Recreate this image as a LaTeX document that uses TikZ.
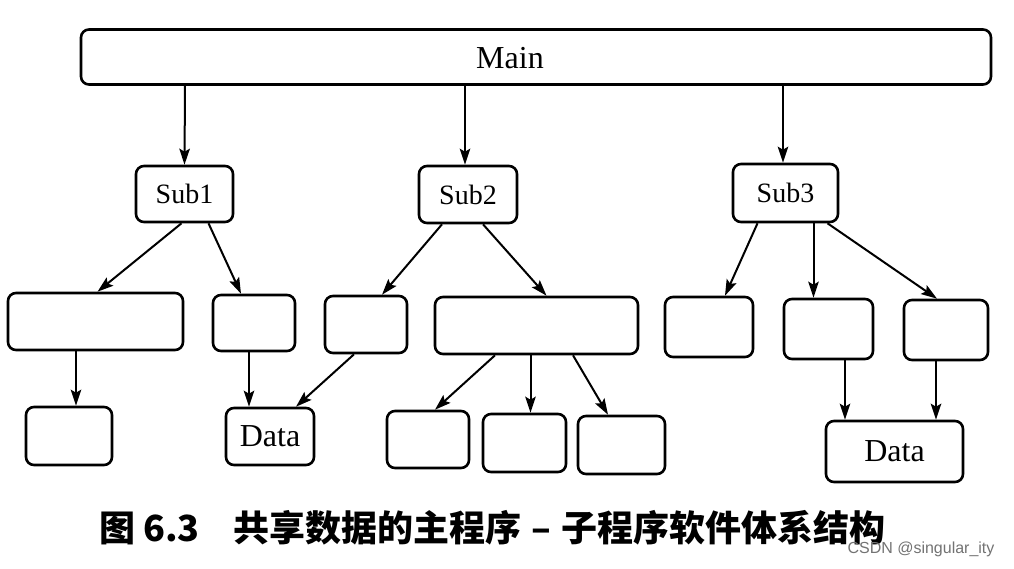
\documentclass[tikz,border=0pt]{standalone}
\usepackage{fontspec}
\setmainfont{Liberation Serif}
\newfontfamily\cjk{Noto Sans CJK SC}
\newfontfamily\wmfont{Liberation Sans}
\usetikzlibrary{arrows.meta}

\begin{document}
\begin{tikzpicture}[x=1pt,y=-1pt,
 modbox/.style={draw,line width=2.6pt,rounded corners=8pt,inner sep=0pt,
   font=\fontsize{28}{28}\selectfont},
 big/.style={font=\fontsize{32}{32}\selectfont},
 link/.style={line width=2pt,-{Stealth[length=16pt,width=10.5pt,inset=3pt]}}]

\useasboundingbox[fill=white] (0,0) rectangle (1014,568);

\newcommand{\blk}[6][] % [style]{name}{centre}{width}{height}{text}
{
 \node[modbox,#1,minimum width=#4,minimum height=#5] (#2) at (#3) {#6};
}

% main program
\node[modbox,minimum width=910,minimum height=55] (main) at (536,57) {};
\node[big] (maintxt) at (510,58) {Main};

% subprograms
\blk{sub1}{184.5,194}{97}{56}{Sub1}
\blk{sub2}{468,194.5}{98}{57}{Sub2}
\blk{sub3}{785.5,193}{105}{58}{Sub3}

% second row
\blk{a1}{95.5,321.5}{175}{57}{}
\blk{a2}{254,323}{82}{56}{}
\blk{a3}{366,324.5}{82}{57}{}
\blk{a4}{536.5,325.5}{203}{57}{}
\blk{a5}{709,327}{88}{60}{}
\blk{a6}{828.5,329}{89}{60}{}
\blk{a7}{946,330}{84}{60}{}

% third row
\blk{b1}{69,436}{86}{58}{}
\blk[big]{data1}{270,436.5}{88}{57}{Data}
\blk{b2}{428,439.5}{82}{57}{}
\blk{b3}{524.5,443}{83}{58}{}
\blk{b4}{621.5,445}{87}{58}{}
\blk[big]{data3}{894.5,451.5}{137}{61}{Data}

\draw[link] ([xshift=-351]main.south) -- (sub1.north);
\draw[link] ([xshift=-71]main.south) -- ([xshift=-3]sub2.north);
\draw[link] ([xshift=247]main.south) -- ([xshift=-2.5]sub3.north);

\draw[link] ([xshift=-3]sub1.south) -- ([xshift=2]a1.north);
\draw[link] ([xshift=24]sub1.south) -- ([xshift=-13]a2.north);
\draw[link] ([xshift=-26]sub2.south) -- ([xshift=16]a3.north);
\draw[link] ([xshift=15]sub2.south) -- ([xshift=10]a4.north);
\draw[link] ([xshift=-28]sub3.south) -- ([xshift=16]a5.north);
\draw[link] ([xshift=28]sub3.south) -- ([xshift=-15]a6.north);
\draw[link] ([xshift=42]sub3.south) -- ([xshift=-9]a7.north);

\draw[link] ([xshift=-19.5]a1.south) -- ([xshift=7]b1.north);
\draw[link] ([xshift=-5]a2.south) -- ([xshift=-21]data1.north);
\draw[link] ([xshift=-12]a3.south) -- ([xshift=26]data1.north);
\draw[link] ([xshift=-41.5]a4.south) -- ([xshift=7]b2.north);
\draw[link] ([xshift=-6]a4.south) -- ([xshift=6]b3.north);
\draw[link] ([xshift=36.5]a4.south) -- ([xshift=-13.5]b4.north);
\draw[link] ([xshift=16.5]a6.south) -- ([xshift=-49.5]data3.north);
\draw[link] ([xshift=-10]a7.south) -- ([xshift=41.5]data3.north);

% caption
\node[anchor=west,inner sep=0pt,font=\cjk\bfseries\fontsize{36}{36}\selectfont]
  (caption) at (99,528)
  {图\hspace{8pt}6.3\hspace{34pt}共享数据的主程序\hspace{10pt}–\hspace{10pt}子程序软件体系结构};
\node[font=\wmfont\fontsize{16}{16}\selectfont,text=black!55] (mark) at (921,549)
  {CSDN @singular\_ity};
\end{tikzpicture}
\end{document}
